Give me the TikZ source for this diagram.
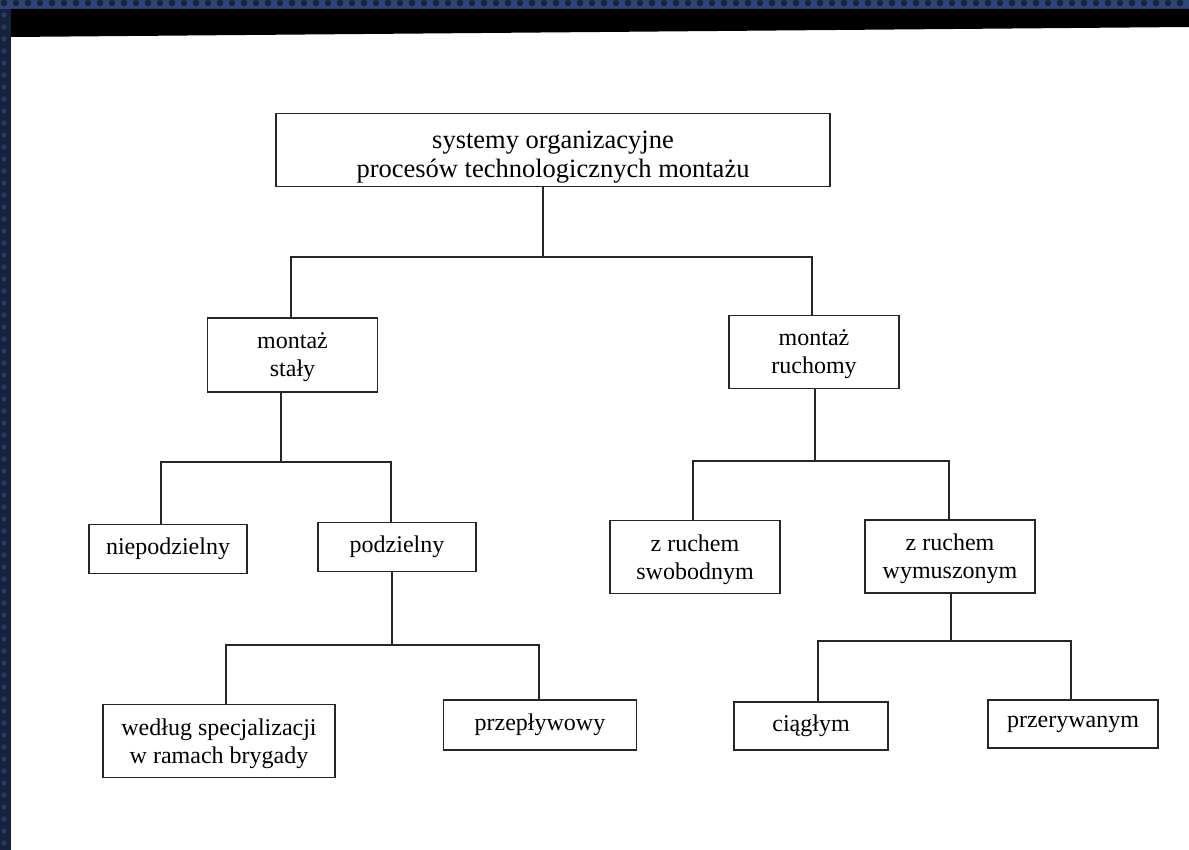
\documentclass[tikz,border=0pt]{standalone}
\usepackage{fontspec}
\setmainfont{Liberation Serif}
\usetikzlibrary{positioning}

\definecolor{framenavy}{HTML}{2B4677}
\definecolor{framedark}{HTML}{18223C}
\definecolor{inkgray}{HTML}{262626}

\tikzset{
    box/.style={draw=inkgray, line width=1.5pt, fill=white, align=center,
        inner sep=0pt, font=\fontsize{24}{28}\selectfont},
    twoline/.style={box, text depth=0pt},
    link/.style={draw=inkgray, line width=1.5pt},
}

\begin{document}
\begin{tikzpicture}[x=1pt, y=-1pt]
    \useasboundingbox (0,0) rectangle (1189,850);
    % scan frame
    \fill[framedark] (0,0) rectangle (11,850);
    \fill[framenavy] (0,0) rectangle (1189,9);
    \foreach \i in {0,...,100} {
        \fill[framedark] (4+\i*12,3) circle (3.2pt);
    }
    \foreach \i in {1,...,71} {
        \fill[framenavy!70!framedark] (4,3+\i*12) circle (2.6pt);
    }
    \fill[black] (11,9) -- (1189,9) -- (1189,27) -- (11,37) -- cycle;

    % boxes
    \node[twoline, minimum width=554pt, minimum height=73pt,
        font=\fontsize{26.5}{29}\selectfont] (top) at (553,150)
        {\rule{0pt}{27pt}systemy organizacyjne\\procesów technologicznych montażu};
    \node[twoline, minimum width=170pt, minimum height=74pt] (stale) at (292.5,355)
        {montaż\\stały};
    \node[twoline, minimum width=170pt, minimum height=73pt] (ruchomy) at (814,352)
        {montaż\\ruchomy};
    \node[box, minimum width=158pt, minimum height=49pt] (niepodz) at (168,549)
        {niepodzielny};
    \node[box, minimum width=158pt, minimum height=49pt] (podz) at (397,547)
        {podzielny};
    \node[twoline, minimum width=170pt, minimum height=73pt] (swob) at (695,557)
        {z ruchem\\swobodnym};
    \node[twoline, minimum width=170pt, minimum height=73pt] (wymusz) at (950,556.5)
        {z ruchem\\wymuszonym};
    \node[twoline, minimum width=232pt, minimum height=73pt] (wedlug) at (219,741)
        {według specjalizacji\\w ramach brygady};
    \node[box, minimum width=193pt, minimum height=50pt] (przeplyw) at (540,725)
        {przepływowy};
    \node[box, minimum width=154pt, minimum height=48pt] (ciagly) at (811,726)
        {ciągłym};
    \node[box, minimum width=170pt, minimum height=48pt] (przeryw) at (1073,724)
        {przerywanym};

    % branch points
    \coordinate (j0) at (543,257);
    \coordinate (j1) at (281,462);
    \coordinate (j2) at (815,461);
    \coordinate (j3) at (392,645);
    \coordinate (j4) at (951,641);

    \draw[link] (top.south -| j0) -- (j0);
    \draw[link] ([xshift=-1.5pt]stale.north) |- (j0) -| ([xshift=-2pt]ruchomy.north);

    \draw[link] (stale.south -| j1) -- (j1);
    \draw[link] ([xshift=-7pt]niepodz.north) |- (j1) -| ([xshift=-6pt]podz.north);

    \draw[link] (ruchomy.south -| j2) -- (j2);
    \draw[link] ([xshift=-2pt]swob.north) |- (j2) -| ([xshift=-1pt]wymusz.north);

    \draw[link] (podz.south -| j3) -- (j3);
    \draw[link] ([xshift=7pt]wedlug.north) |- (j3) -| ([xshift=-1pt]przeplyw.north);

    \draw[link] (wymusz.south -| j4) -- (j4);
    \draw[link] ([xshift=7pt]ciagly.north) |- (j4) -| ([xshift=-2pt]przeryw.north);
\end{tikzpicture}
\end{document}
